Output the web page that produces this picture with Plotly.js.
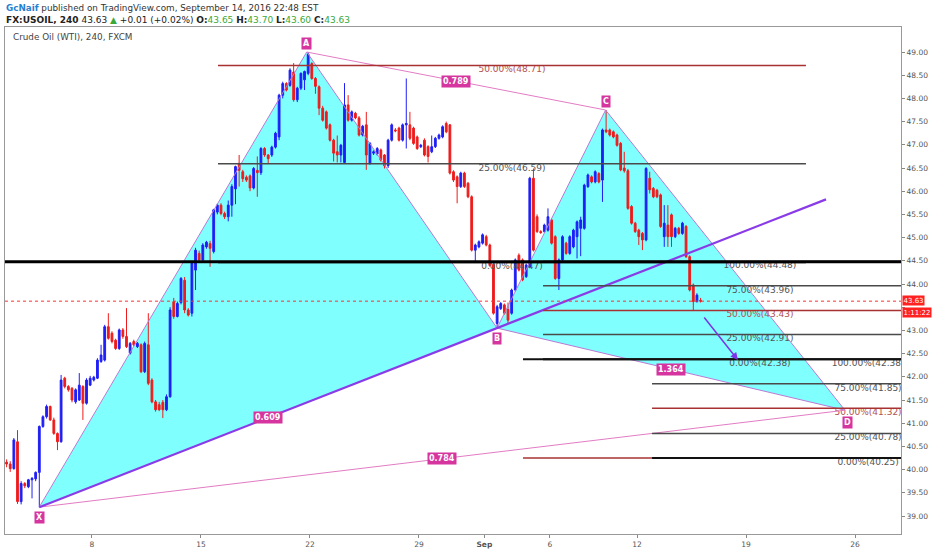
<!DOCTYPE html>
<html><head><meta charset="utf-8">
<script src="https://cdn.plot.ly/plotly-3.0.1.min.js"></script>
<style>html,body{margin:0;padding:0;background:#fff;} #chart{width:932px;height:550px;}</style>
</head><body><div id="chart"></div>
<script>
// ---- DATA ----
// 4-hour bars of FX:USOIL starting Aug 2 2016 (trading-day axis, day 0 = Aug 8)
const FIRST_DAY = -4;
const BARS_PER_DAY = 6;
const OPEN  = [40.16,40.12,40.02,40.60,39.31,39.70,39.63,39.78,39.80,39.94,40.93,41.14,41.36,41.07,40.78,40.60,41.97,41.79,41.75,41.46,41.50,41.79,41.43,41.82,41.93,41.97,42.33,42.36,43.08,42.94,42.79,42.61,43.01,42.87,42.51,42.76,42.65,42.69,42.11,42.69,41.93,41.46,41.40,41.45,41.29,41.57,43.62,43.30,43.60,44.08,43.44,43.37,44.30,44.66,44.52,44.80,44.87,44.70,45.55,45.70,45.52,45.45,45.70,46.05,46.60,46.42,46.30,46.33,46.07,46.45,46.40,46.92,46.78,46.78,46.95,47.17,48.07,48.32,48.28,48.57,47.97,48.22,48.40,48.54,48.75,48.43,48.25,47.79,47.71,47.43,47.10,46.85,46.78,46.62,47.86,47.53,47.68,47.58,47.21,47.43,46.60,46.82,46.80,46.89,46.78,46.55,47.10,47.32,47.36,47.10,47.43,47.43,47.36,47.17,46.96,47.10,46.96,46.85,46.96,47.14,47.17,47.46,47.43,46.42,46.31,46.10,46.39,46.17,45.88,44.73,44.80,44.88,45.02,44.84,44.42,43.15,43.47,43.55,43.45,43.37,43.87,44.62,44.52,44.16,44.37,46.28,45.45,45.13,45.13,45.16,45.38,45.02,44.12,44.52,44.88,44.66,44.80,45.02,45.20,45.20,46.10,46.31,46.20,46.38,46.24,47.32,47.32,47.28,47.21,47.03,46.50,46.44,45.67,45.31,45.16,45.09,44.95,46.28,46.06,46.02,45.92,45.02,45.27,45.49,45.02,45.20,45.09,45.24,44.59,43.98,43.62,43.65];
const HIGH  = [40.22,40.18,40.68,40.85,39.75,39.73,39.80,39.84,39.96,40.95,41.17,41.40,41.38,41.12,40.80,42.04,42.00,41.82,41.78,41.75,42.08,41.82,41.97,42.02,42.02,42.40,42.69,43.12,43.37,42.98,42.82,43.04,43.05,43.48,42.75,42.80,42.75,42.72,42.76,43.37,41.97,41.50,41.46,41.50,41.62,43.50,43.70,43.62,44.15,44.15,43.48,44.50,44.78,44.72,44.88,44.93,44.93,45.62,45.73,45.74,45.56,45.80,46.15,46.55,46.78,46.46,46.34,46.36,46.52,46.75,46.95,46.95,46.80,46.98,47.28,48.10,48.36,48.35,48.65,48.76,48.25,48.56,48.60,49.00,48.78,48.46,48.28,47.84,47.74,47.46,47.13,47.20,47.02,48.33,48.07,47.74,47.71,47.62,47.43,47.71,47.06,46.88,46.95,46.92,46.80,47.13,47.46,47.36,47.39,47.46,48.43,47.71,47.39,47.20,47.02,47.14,46.99,47.20,47.17,47.24,47.42,47.50,47.45,46.45,46.34,46.42,46.42,46.20,45.91,44.87,44.94,45.09,45.06,44.87,44.45,43.55,43.61,43.58,43.60,43.90,44.55,44.66,44.55,44.44,46.31,46.49,45.50,45.16,45.30,45.63,45.41,45.05,44.55,45.05,44.91,45.05,45.19,45.37,45.45,46.16,46.38,46.34,46.45,46.41,47.35,47.75,47.35,47.31,47.24,47.06,46.85,46.48,45.70,45.34,45.19,45.12,46.52,46.42,46.09,46.05,45.95,45.70,45.70,45.52,45.23,45.23,45.34,45.27,44.62,44.01,43.80,43.70];
const LOW   = [40.05,39.95,40.00,39.26,39.25,39.60,39.60,39.38,39.75,39.19,40.90,41.10,41.05,40.75,40.42,40.58,41.75,41.68,41.45,41.42,41.48,41.07,41.40,41.80,41.90,41.95,42.30,42.33,42.80,42.72,42.58,42.58,42.82,42.62,42.48,42.66,42.62,42.08,42.08,41.82,41.43,41.25,41.26,41.11,41.26,41.55,43.25,43.28,43.56,43.37,43.30,43.30,43.87,44.50,44.48,44.76,44.37,44.66,45.50,45.48,45.40,45.35,45.45,45.72,46.10,46.20,46.20,46.00,46.04,45.88,46.35,46.74,46.60,46.74,46.92,47.10,48.00,48.15,48.25,47.93,47.92,48.18,48.18,48.50,48.40,48.10,47.64,47.50,47.33,47.07,46.64,46.62,46.62,46.60,47.50,47.50,47.55,47.18,47.18,46.46,46.57,46.78,46.77,46.64,46.49,46.50,47.07,47.27,47.07,47.07,46.92,47.10,47.00,46.89,46.93,46.75,46.62,46.82,46.93,47.11,47.14,47.25,46.36,46.20,45.74,46.07,46.07,45.85,44.70,44.48,44.77,44.85,44.81,44.37,43.34,43.05,43.44,43.34,43.15,43.34,43.84,44.27,44.06,44.13,44.34,44.70,45.10,45.08,45.10,45.13,44.85,44.09,43.87,44.49,44.63,44.63,44.77,44.55,44.60,45.17,46.07,46.17,46.17,46.17,45.77,47.25,47.18,47.14,46.96,46.43,46.40,45.60,45.28,45.10,44.84,44.73,44.92,45.95,45.85,45.85,45.21,44.80,44.80,44.80,44.99,45.06,45.06,44.56,43.84,43.44,43.60,43.60];
const CLOSE = [40.12,40.02,40.64,39.31,39.70,39.65,39.78,39.81,39.94,40.93,41.14,41.36,41.07,40.78,40.60,41.93,41.79,41.72,41.50,41.72,41.82,41.43,41.93,41.97,41.99,42.36,42.47,43.08,42.83,42.76,42.61,43.01,42.87,42.65,42.72,42.69,42.72,42.11,42.72,41.86,41.46,41.29,41.29,41.29,41.57,43.44,43.30,43.58,44.12,43.44,43.33,44.45,44.73,44.52,44.84,44.90,44.77,45.60,45.70,45.52,45.45,45.70,46.10,46.53,46.45,46.27,46.24,46.07,46.49,46.40,46.92,46.78,46.70,46.95,47.25,48.07,48.32,48.18,48.61,47.97,48.22,48.54,48.58,48.95,48.43,48.26,47.79,47.53,47.36,47.10,46.82,46.78,46.99,47.86,47.53,47.71,47.58,47.21,47.40,46.78,47.03,46.85,46.92,46.67,46.55,47.10,47.43,47.30,47.10,47.43,47.46,47.14,47.03,46.92,46.99,46.78,46.75,46.96,47.14,47.21,47.39,47.28,46.39,46.24,46.10,46.39,46.10,45.88,44.73,44.84,44.91,45.06,44.84,44.40,43.37,43.51,43.58,43.37,43.22,43.87,44.52,44.30,44.09,44.41,46.28,44.73,45.13,45.11,45.27,45.45,44.88,44.12,44.52,45.02,44.66,45.02,45.16,45.34,45.38,46.13,46.35,46.20,46.42,46.20,47.32,47.28,47.21,47.17,46.99,46.46,46.44,45.63,45.31,45.13,45.02,44.95,46.49,46.03,45.88,45.88,45.24,45.31,45.02,45.02,45.20,45.09,45.31,44.59,43.87,43.62,43.76,43.63];

// X axis tick labels (trading days from Aug 8)
const TICK_DAYS   = [0, 5, 10, 15, 18, 21, 25, 30, 35];
const TICK_LABELS = ['8', '15', '22', '29', '<b>Sep</b>', '6', '12', '19', '26'];
// price ticks; 43.50 is hidden behind the last-price tag in the reference
const PRICE_TICKS = [39,39.5,40,40.5,41,41.5,42,42.5,43,43.5,44,44.5,45,45.5,46,46.5,47,47.5,48,48.5,49];
const HIDDEN_TICK = 43.5;

// XABCD harmonic pattern
const PT_NAME  = ['X', 'A', 'B', 'C', 'D'];
const PT_DAY   = [-2.42, 9.85, 18.58, 23.56, 34.54];
const PT_PRICE = [39.19, 49.00, 43.05, 47.75, 41.28];
const RATIO_XB = '0.609', RATIO_AC = '0.789', RATIO_BD = '1.364', RATIO_XD = '0.784';
const TREND_END_DAY = 33.67;   // X-B trend line extended to

// Fibonacci retracements
const FIB1_LEVELS = [44.47, 46.59, 48.71];
const FIB1_PCT    = ['0.00%', '25.00%', '50.00%'];
const FIB1_SPAN   = [5.78, 32.75];
const FIB2_LEVELS = [44.48, 43.96, 43.43, 42.91, 42.38];
const FIB2_PCT    = ['100.00%', '75.00%', '50.00%', '25.00%', '0.00%'];
const FIB2_SPAN   = [20.69, 40];
const FIB3_LEVELS = [42.38, 41.85, 41.32, 40.78, 40.25];
const FIB3_PCT    = ['100.00%', '75.00%', '50.00%', '25.00%', '0.00%'];
const FIB3_START  = [19.77, 25.69, 25.69, 25.69, 25.69];
const FIB3_END    = 42;

const HLINE = 44.48;
const LAST_PRICE = 43.63;
const COUNTDOWN = '1:11:22';
const ARROW_FROM = [28.03, 43.31], ARROW_TO = [29.63, 42.36];

// ---- BUILD ----
const xs = OPEN.map((_, i) => FIRST_DAY + (i + 0.5) / BARS_PER_DAY);
const BLUE = '#1f1ff5', RED = '#ee1c1c';
const traces = [{
  type: 'candlestick', x: xs, open: OPEN, high: HIGH, low: LOW, close: CLOSE,
  increasing: {line: {color: BLUE, width: 1}, fillcolor: BLUE},
  decreasing: {line: {color: RED, width: 1}, fillcolor: RED},
  whiskerwidth: 0, hoverinfo: 'skip'
}];

const shapes = [];
const P = i => [PT_DAY[i], PT_PRICE[i]];
function tri(a, b, c) {
  return {type: 'path', layer: 'below', xref: 'x', yref: 'y', fillcolor: '#80ffff', line: {width: 0},
    path: `M ${a[0]},${a[1]} L ${b[0]},${b[1]} L ${c[0]},${c[1]} Z`};
}
shapes.push(tri(P(0), P(1), P(2)));
shapes.push(tri(P(2), P(3), P(4)));
function seg(a, b, color, width, layer, dash) {
  return {type: 'line', xref: 'x', yref: 'y', x0: a[0], y0: a[1], x1: b[0], y1: b[1],
    line: {color: color, width: width, dash: dash || 'solid'}, layer: layer || 'above'};
}
const EDGE = '#b97ad3', PINK = '#e27cc4';
shapes.push(seg(P(0), P(1), EDGE, 1));
shapes.push(seg(P(1), P(2), EDGE, 1));
shapes.push(seg(P(2), P(3), EDGE, 1));
shapes.push(seg(P(3), P(4), EDGE, 1));
shapes.push(seg(P(2), P(4), EDGE, 1));
shapes.push(seg(P(1), P(3), PINK, 1));
shapes.push(seg(P(0), P(4), PINK, 1));
// trend line X -> B extended
const slope = (PT_PRICE[2] - PT_PRICE[0]) / (PT_DAY[2] - PT_DAY[0]);
shapes.push(seg(P(0), [TREND_END_DAY, PT_PRICE[0] + slope * (TREND_END_DAY - PT_DAY[0])], '#8a3be8', 2.2));

function fibColor(pct) {
  if (pct === '50.00%') return '#a83232';
  if (pct === '25.00%' || pct === '75.00%') return '#4a4a4a';
  return '#111';
}
function fibWidth(pct) { return (pct === '0.00%' || pct === '100.00%') ? 2 : 1.5; }
FIB1_LEVELS.forEach((v, k) => shapes.push(seg([FIB1_SPAN[0], v], [FIB1_SPAN[1], v], fibColor(FIB1_PCT[k]), fibWidth(FIB1_PCT[k]))));
FIB2_LEVELS.forEach((v, k) => shapes.push(seg([FIB2_SPAN[0], v], [FIB2_SPAN[1], v], fibColor(FIB2_PCT[k]), fibWidth(FIB2_PCT[k]))));
FIB3_LEVELS.forEach((v, k) => shapes.push(seg([FIB3_START[k], v], [FIB3_END, v], fibColor(FIB3_PCT[k]), fibWidth(FIB3_PCT[k]))));
// red segment on fib3 0% level left of its start
shapes.push(seg([FIB3_START[0], FIB3_LEVELS[4]], [FIB3_START[4], FIB3_LEVELS[4]], '#a83232', 1.5));
// thick horizontal line
shapes.push({type: 'line', xref: 'paper', yref: 'y', x0: 0, x1: 1, y0: HLINE, y1: HLINE, line: {color: '#000', width: 3}});
// last price dotted line
shapes.push({type: 'line', xref: 'paper', yref: 'y', x0: 0, x1: 1, y0: LAST_PRICE, y1: LAST_PRICE, line: {color: '#ff3030', width: 1, dash: 'dot'}});

// fib labels as clipped text traces
function fibText(levels, pcts, day) {
  traces.push({type: 'scatter', mode: 'text', x: levels.map(() => day), y: levels,
    text: levels.map((v, k) => pcts[k] + '(' + v.toFixed(2) + ')'),
    textposition: 'bottom center', cliponaxis: true, hoverinfo: 'skip',
    textfont: {family: 'DejaVu Sans', size: 9, color: pcts.map(p => p === '50.00%' ? '#b5524c' : '#555')}});
}
fibText(FIB1_LEVELS, FIB1_PCT, (FIB1_SPAN[0] + FIB1_SPAN[1]) / 2);
fibText(FIB2_LEVELS, FIB2_PCT, 30.64);
fibText(FIB3_LEVELS, FIB3_PCT, 35.6);

// annotations
const MAG = '#d6359f';
const ann = [];
const yshift = [-10, 9, -10, 9, -12];
PT_NAME.forEach((n, i) => ann.push({x: PT_DAY[i], y: PT_PRICE[i], xref: 'x', yref: 'y', text: '<b>' + n + '</b>',
  showarrow: false, bgcolor: MAG, font: {color: '#fff', size: 8}, borderpad: 1, yshift: yshift[i], xshift: i === 4 ? 3 : 0}));
function mid(a, b, t) { return [PT_DAY[a] + (PT_DAY[b] - PT_DAY[a]) * 0.5, PT_PRICE[a] + (PT_PRICE[b] - PT_PRICE[a]) * 0.5, t]; }
[mid(0, 2, RATIO_XB), mid(1, 3, RATIO_AC), mid(2, 4, RATIO_BD), mid(0, 4, RATIO_XD)].forEach(m =>
  ann.push({x: m[0], y: m[1], xref: 'x', yref: 'y', text: '<b>' + m[2] + '</b>', showarrow: false,
    bgcolor: MAG, font: {color: '#fff', size: 8}, borderpad: 1}));
// arrow
ann.push({x: ARROW_TO[0], y: ARROW_TO[1], ax: ARROW_FROM[0], ay: ARROW_FROM[1], axref: 'x', ayref: 'y',
  xref: 'x', yref: 'y', text: '', showarrow: true, arrowhead: 2, arrowsize: 1, arrowwidth: 1.5, arrowcolor: '#7d34e6'});
// price tag
ann.push({xref: 'paper', yref: 'y', x: 1, y: LAST_PRICE, xanchor: 'left', xshift: 1, yshift: 1, text: LAST_PRICE.toFixed(2),
  showarrow: false, bgcolor: '#ff2020', font: {color: '#fff', size: 7}, borderpad: 0.5});
ann.push({xref: 'paper', yref: 'y', x: 1, y: LAST_PRICE, xanchor: 'left', xshift: 1, yshift: -11, text: COUNTDOWN,
  showarrow: false, bgcolor: '#ff2020', font: {color: '#fff', size: 7}, borderpad: 0.5});
// header texts (paper positions derived from pixels)
const PL = 5, PW = 896, PB = 534, PH = 507;
const px = v => (v - PL) / PW, py = v => (PB - v) / PH;
ann.push({xref: 'paper', yref: 'paper', x: px(4), y: py(8), xanchor: 'left', yanchor: 'middle', showarrow: false,
  text: '<span style="color:#2a7fcf"><b>GcNaif</b></span> published on TradingView.com, September 14, 2016 22:48 EST',
  font: {size: 8.8, color: '#333'}});
const G = s => '<span style="color:#3aa83a">' + s + '</span>';
ann.push({xref: 'paper', yref: 'paper', x: px(4), y: py(20), xanchor: 'left', yanchor: 'middle', showarrow: false,
  text: '<b>FX:USOIL, 240</b> 43.63 ' + G('▲') + ' +0.01 (+0.02%) <b>O:</b>' + G('43.65') + ' <b>H:</b>' + G('43.70') +
        ' <b>L:</b>' + G('43.60') + ' <b>C:</b>' + G('43.63'),
  font: {size: 9, color: '#222'}});
ann.push({xref: 'paper', yref: 'paper', x: px(11), y: py(37), xanchor: 'left', yanchor: 'middle', showarrow: false,
  text: 'Crude Oil (WTI), 240, FXCM', font: {size: 8.8, color: '#444'}});

const layout = {
  width: 932, height: 550, margin: {l: 5, r: 31, t: 27, b: 16},
  paper_bgcolor: '#fff', plot_bgcolor: '#fff', showlegend: false,
  font: {family: 'DejaVu Sans', size: 9, color: '#555'},
  xaxis: {range: [-3.99, 37.11], tickvals: TICK_DAYS, ticktext: TICK_LABELS, ticks: 'outside', ticklen: 3,
    tickcolor: '#888', showgrid: false, zeroline: false, showline: true, linecolor: '#999', mirror: true,
    rangeslider: {visible: false}, tickfont: {size: 7.5, color: '#555'}, fixedrange: true},
  yaxis: {side: 'right', range: [38.612, 49.539], tickvals: PRICE_TICKS,
    ticktext: PRICE_TICKS.map(v => v === HIDDEN_TICK ? '' : v.toFixed(2)),
    ticks: 'outside', ticklen: 3, tickcolor: '#888', showgrid: false, zeroline: false, showline: true,
    linecolor: '#999', mirror: true, tickfont: {size: 7.5, color: '#555'}, fixedrange: true},
  shapes: shapes, annotations: ann
};
Plotly.newPlot('chart', traces, layout, {displayModeBar: false, staticPlot: true});
</script></body></html>
